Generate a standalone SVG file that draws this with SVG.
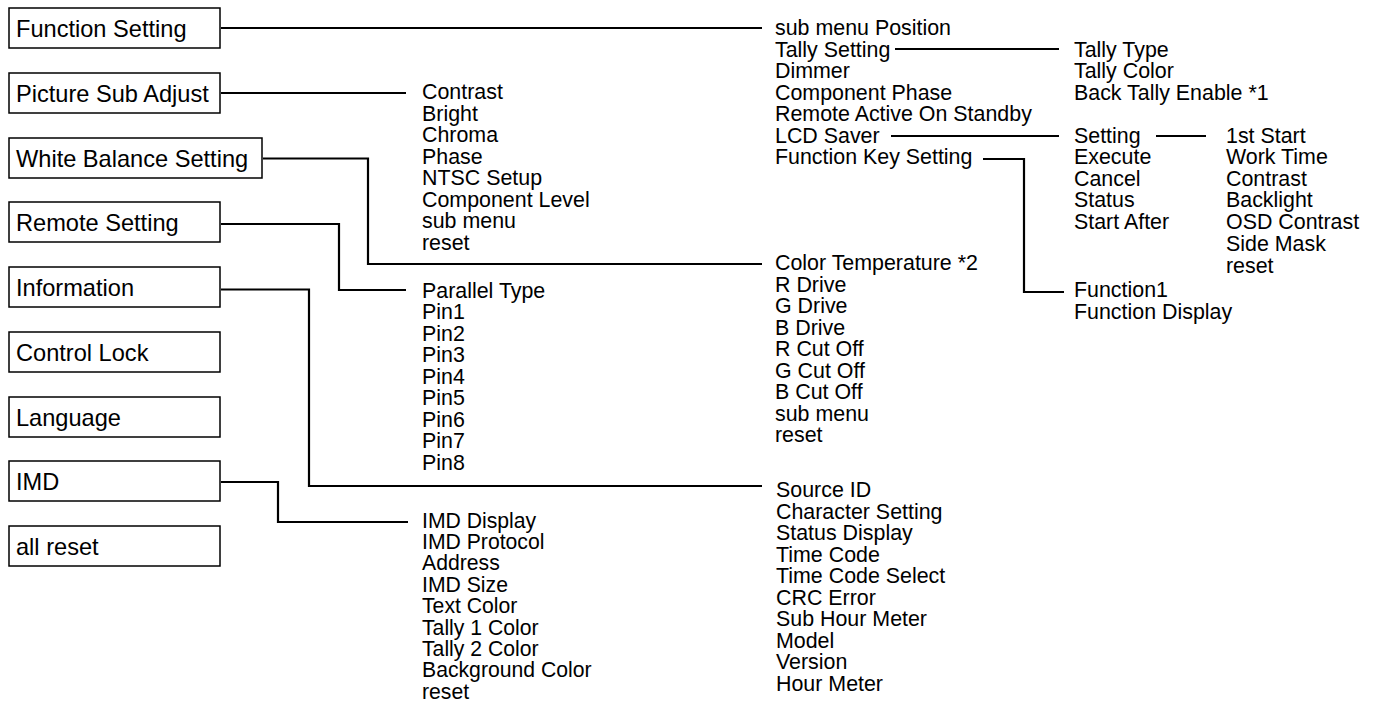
<svg xmlns="http://www.w3.org/2000/svg" width="1377" height="702" viewBox="0 0 1377 702">
<style>
.box{fill:#fff;stroke:#000;stroke-width:1.5}
.bt{font-family:"Liberation Sans",Arial,sans-serif;font-size:23.6px;fill:#000}
.lt{font-family:"Liberation Sans",Arial,sans-serif;font-size:21.4px;fill:#000}
.lt2{font-family:"Liberation Sans",Arial,sans-serif;font-size:21.2px;fill:#000}
.cn{fill:none;stroke:#000;stroke-width:2.2}
</style>
<rect width="1377" height="702" fill="#fff"/>
<g id="connectors">
<path class="cn" d="M221 28 H762"/>
<path class="cn" d="M221 93 H406"/>
<path class="cn" d="M263 158.5 H368 V264 H762"/>
<path class="cn" d="M221 224 H339 V290 H406"/>
<path class="cn" d="M221 289.5 H309 V486 H762"/>
<path class="cn" d="M221 482 H278 V522 H408"/>
<path class="cn" d="M895 49 H1059"/>
<path class="cn" d="M891 136 H1059"/>
<path class="cn" d="M1156 136 H1206"/>
<path class="cn" d="M983 159 H1024 V292 H1064"/>
</g>
<g id="node-function-setting"><rect class="box" x="9" y="8" width="211" height="40"/><text class="bt" x="16" y="37">Function Setting</text></g>
<g id="node-picture-sub-adjust"><rect class="box" x="9" y="73" width="211" height="40"/><text class="bt" x="16" y="102">Picture Sub Adjust</text></g>
<g id="node-white-balance"><rect class="box" x="9" y="138" width="253" height="40"/><text class="bt" x="16" y="167">White Balance Setting</text></g>
<g id="node-remote-setting"><rect class="box" x="9" y="202" width="211" height="40"/><text class="bt" x="16" y="231">Remote Setting</text></g>
<g id="node-information"><rect class="box" x="9" y="267" width="211" height="40"/><text class="bt" x="16" y="296">Information</text></g>
<g id="node-control-lock"><rect class="box" x="9" y="332" width="211" height="40"/><text class="bt" x="16" y="361">Control Lock</text></g>
<g id="node-language"><rect class="box" x="9" y="397" width="211" height="40"/><text class="bt" x="16" y="426">Language</text></g>
<g id="node-imd"><rect class="box" x="9" y="461" width="211" height="40"/><text class="bt" x="16" y="490">IMD</text></g>
<g id="node-all-reset"><rect class="box" x="9" y="526" width="211" height="40"/><text class="bt" x="16" y="555">all reset</text></g>
<g id="list-function-setting">
<text class="lt" x="775" y="35">sub menu Position</text>
<text class="lt" x="775" y="56.5">Tally Setting</text>
<text class="lt" x="775" y="78">Dimmer</text>
<text class="lt" x="775" y="99.5">Component Phase</text>
<text class="lt" x="775" y="121">Remote Active On Standby</text>
<text class="lt" x="775" y="142.5">LCD Saver</text>
<text class="lt" x="775" y="164">Function Key Setting</text>
</g>
<g id="list-tally">
<text class="lt" x="1074" y="56.5">Tally Type</text>
<text class="lt" x="1074" y="78">Tally Color</text>
<text class="lt" x="1074" y="99.5">Back Tally Enable *1</text>
</g>
<g id="list-lcd-saver">
<text class="lt" x="1074" y="142.5">Setting</text>
<text class="lt" x="1074" y="164">Execute</text>
<text class="lt" x="1074" y="185.5">Cancel</text>
<text class="lt" x="1074" y="207">Status</text>
<text class="lt" x="1074" y="228.5">Start After</text>
</g>
<g id="list-setting">
<text class="lt" x="1226" y="142.5">1st Start</text>
<text class="lt" x="1226" y="164">Work Time</text>
<text class="lt" x="1226" y="185.5">Contrast</text>
<text class="lt" x="1226" y="207">Backlight</text>
<text class="lt" x="1226" y="228.5">OSD Contrast</text>
<text class="lt" x="1226" y="250.5">Side Mask</text>
<text class="lt" x="1226" y="272.5">reset</text>
</g>
<g id="list-function-key">
<text class="lt" x="1074" y="297">Function1</text>
<text class="lt" x="1074" y="318.5">Function Display</text>
</g>
<g id="list-picture-sub-adjust">
<text class="lt" x="422" y="99">Contrast</text>
<text class="lt" x="422" y="120.5">Bright</text>
<text class="lt" x="422" y="142">Chroma</text>
<text class="lt" x="422" y="163.5">Phase</text>
<text class="lt" x="422" y="185">NTSC Setup</text>
<text class="lt" x="422" y="206.5">Component Level</text>
<text class="lt" x="422" y="228">sub menu</text>
<text class="lt" x="422" y="249.5">reset</text>
</g>
<g id="list-white-balance">
<text class="lt" x="775" y="270">Color Temperature *2</text>
<text class="lt" x="775" y="291.5">R Drive</text>
<text class="lt" x="775" y="313">G Drive</text>
<text class="lt" x="775" y="334.5">B Drive</text>
<text class="lt" x="775" y="356">R Cut Off</text>
<text class="lt" x="775" y="377.5">G Cut Off</text>
<text class="lt" x="775" y="399">B Cut Off</text>
<text class="lt" x="775" y="420.5">sub menu</text>
<text class="lt" x="775" y="442">reset</text>
</g>
<g id="list-remote">
<text class="lt" x="422" y="297.5">Parallel Type</text>
<text class="lt" x="422" y="319">Pin1</text>
<text class="lt" x="422" y="340.5">Pin2</text>
<text class="lt" x="422" y="362">Pin3</text>
<text class="lt" x="422" y="383.5">Pin4</text>
<text class="lt" x="422" y="405">Pin5</text>
<text class="lt" x="422" y="426.5">Pin6</text>
<text class="lt" x="422" y="448">Pin7</text>
<text class="lt" x="422" y="469.5">Pin8</text>
</g>
<g id="list-information">
<text class="lt" x="776" y="497">Source ID</text>
<text class="lt" x="776" y="518.5">Character Setting</text>
<text class="lt" x="776" y="540">Status Display</text>
<text class="lt" x="776" y="561.5">Time Code</text>
<text class="lt" x="776" y="583">Time Code Select</text>
<text class="lt" x="776" y="604.5">CRC Error</text>
<text class="lt" x="776" y="626">Sub Hour Meter</text>
<text class="lt" x="776" y="647.5">Model</text>
<text class="lt" x="776" y="669">Version</text>
<text class="lt" x="776" y="690.5">Hour Meter</text>
</g>
<g id="list-imd">
<text class="lt2" x="422" y="527.6">IMD Display</text>
<text class="lt2" x="422" y="549">IMD Protocol</text>
<text class="lt2" x="422" y="570.4">Address</text>
<text class="lt2" x="422" y="591.8">IMD Size</text>
<text class="lt2" x="422" y="613.2">Text Color</text>
<text class="lt2" x="422" y="634.6">Tally 1 Color</text>
<text class="lt2" x="422" y="656">Tally 2 Color</text>
<text class="lt2" x="422" y="677.4">Background Color</text>
<text class="lt2" x="422" y="698.8">reset</text>
</g>
</svg>
